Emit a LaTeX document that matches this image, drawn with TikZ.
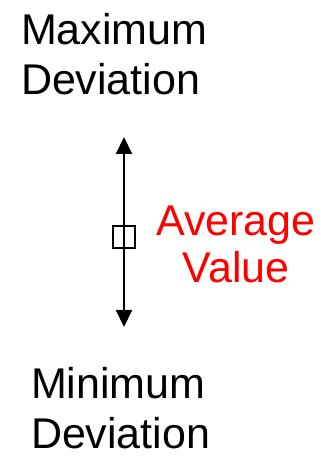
\documentclass[tikz,border=0pt]{standalone}
\usepackage{fontspec}
\setmainfont{Liberation Sans}
\usetikzlibrary{arrows.meta}
\definecolor{avgred}{RGB}{255,0,0}
\tikzset{
  lbl/.style={inner sep=0pt, outer sep=0pt, font=\fontsize{43}{50}\selectfont},
  conn/.style={line width=2pt, {Triangle[width=16pt,length=17pt]}-{Triangle[width=16pt,length=17pt]}},
  box/.style={draw, line width=2pt, minimum size=22pt, inner sep=0pt}
}
\begin{document}
\begin{tikzpicture}[x=1pt,y=1pt]
\useasboundingbox (0,0) rectangle (324,456);
\node[lbl, align=left, anchor=base west] (maxdev) at (21,361) {Maximum\\Deviation};
\node[lbl, align=left, anchor=base west] (mindev) at (31,8) {Minimum\\Deviation};
\node[lbl, align=center, anchor=base, text=avgred, font=\fontsize{43}{48}\selectfont] (avg) at (236,173) {Average\\Value};
\coordinate (top) at (124,319);
\coordinate (bot) at (124,129);
\draw[conn] (bot) -- (top);
\node[box] (mean) at (124,219) {};
\end{tikzpicture}
\end{document}
